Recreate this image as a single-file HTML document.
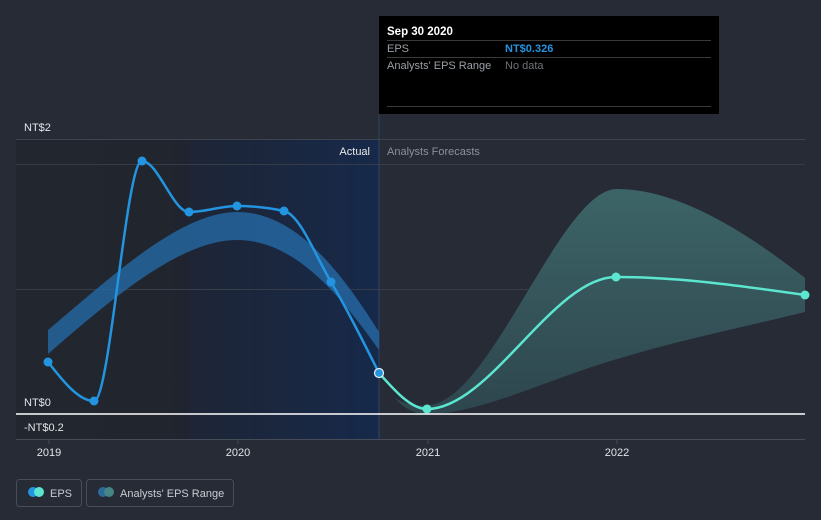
<!DOCTYPE html>
<html><head><meta charset="utf-8"><style>
html,body{margin:0;padding:0;background:#262b36;}
svg{display:block;font-family:"Liberation Sans",Arial,sans-serif;}
</style></head><body>
<svg width="821" height="520" viewBox="0 0 821 520" xmlns="http://www.w3.org/2000/svg">
<defs>
<linearGradient id="act" x1="0" y1="0" x2="1" y2="0">
<stop offset="0" stop-color="#1e2535"/>
<stop offset="1" stop-color="#16294a"/>
</linearGradient>
<linearGradient id="lft" x1="0" y1="0" x2="1" y2="0">
<stop offset="0" stop-color="#22262f"/>
<stop offset="0.85" stop-color="#21252e"/>
<stop offset="1" stop-color="#1f2430"/>
</linearGradient>
<linearGradient id="fc" x1="0" y1="0" x2="0" y2="1">
<stop offset="0" stop-color="#3c6467"/>
<stop offset="1" stop-color="#2e464e"/>
</linearGradient>
</defs>
<rect width="821" height="520" fill="#262b36"/>
<rect x="16" y="139" width="173" height="300" fill="url(#lft)"/>
<rect x="189" y="139" width="190" height="300" fill="url(#act)"/>
<line x1="379" y1="114" x2="379" y2="439" stroke="#2c4668" stroke-width="1"/>
<line x1="16" y1="139.5" x2="805" y2="139.5" stroke="#3d434f"/>
<line x1="16" y1="164.5" x2="805" y2="164.5" stroke="#363c48"/>
<line x1="16" y1="289.5" x2="805" y2="289.5" stroke="#363c48"/>
<line x1="16" y1="439.5" x2="805" y2="439.5" stroke="#464c58"/>
<path d="M48,330 C110,278 180,212 237,212 C295,212 340,270 379,332 L379,350 C340,295 295,240 237,240 C180,240 110,300 48,354 Z" fill="#2468a2" fill-opacity="0.82"/>
<path d="M395,398 C408,406 418,406 427,405 C490,405 560,189 617,189 C680,189 750,235 805,278 L805,312 C740,328 680,340 617,359 C540,382 480,414 427,414 C412,414 402,406 395,398 Z" fill="url(#fc)"/>
<line x1="16" y1="414" x2="805" y2="414" stroke="#ffffff" stroke-width="1.5"/>
<path d="M48,362 C63.3,381.5 78.7,401 94,401 C110,401 126,161 142,161 C157.7,161 173.3,212 189,212 C205,212 221,206 237,206 C252.7,206 268.3,207.7 284,211 C299.7,214.3 315.3,255.4 331,282 C347,309.2 363,341.1 379,373" fill="none" stroke="#2394df" stroke-width="2.5"/>
<path d="M379,373 C395,391 411,409 427,409 C490,409 553,277 616,277 C679,277 742,286 805,295" fill="none" stroke="#5ce6d0" stroke-width="2.5"/>
<g fill="#2394df">
<circle cx="48" cy="362" r="4.5"/>
<circle cx="94" cy="401" r="4.5"/>
<circle cx="142" cy="161" r="4.5"/>
<circle cx="189" cy="212" r="4.5"/>
<circle cx="237" cy="206" r="4.5"/>
<circle cx="284" cy="211" r="4.5"/>
<circle cx="331" cy="282" r="4.5"/>
</g>
<circle cx="379" cy="373" r="4.5" fill="#2394df" stroke="#e8eef5" stroke-width="1.2"/>
<g fill="#5ce6d0">
<circle cx="427" cy="409" r="4.5"/>
<circle cx="616" cy="277" r="4.5"/>
<circle cx="805" cy="295" r="4.5"/>
</g>
<g font-size="11" fill="#e2e4e8">
<text x="24" y="131">NT$2</text>
<text x="24" y="406">NT$0</text>
<text x="24" y="431">-NT$0.2</text>
</g>
<text x="370" y="155" font-size="11" fill="#e8e8e8" text-anchor="end">Actual</text>
<text x="387" y="155" font-size="11" fill="#8a9099">Analysts Forecasts</text>
<g stroke="#464c58"><line x1="49" y1="439" x2="49" y2="444"/><line x1="238" y1="439" x2="238" y2="444"/><line x1="428" y1="439" x2="428" y2="444"/><line x1="617" y1="439" x2="617" y2="444"/></g>
<g font-size="11" fill="#e2e4e8" text-anchor="middle">
<text x="49" y="456">2019</text>
<text x="238" y="456">2020</text>
<text x="428" y="456">2021</text>
<text x="617" y="456">2022</text>
</g>
<rect x="379" y="16" width="340" height="98" fill="#000"/>
<text x="387" y="35" font-size="11.5" font-weight="bold" fill="#ffffff">Sep 30 2020</text>
<line x1="387" y1="40.5" x2="711" y2="40.5" stroke="#3a3a3a"/>
<text x="387" y="52" font-size="11" fill="#9aa0a6">EPS</text>
<text x="505" y="52" font-size="11" font-weight="bold" fill="#2394df">NT$0.326</text>
<line x1="387" y1="57.5" x2="711" y2="57.5" stroke="#3a3a3a"/>
<text x="387" y="69" font-size="11" fill="#9aa0a6">Analysts' EPS Range</text>
<text x="505" y="69" font-size="11" fill="#6e7378">No data</text>
<line x1="387" y1="106.5" x2="711" y2="106.5" stroke="#3a3a3a"/>
<rect x="16.5" y="479.5" width="65" height="27" rx="3" fill="none" stroke="#474d59"/>
<circle cx="33" cy="492" r="5" fill="#2394df"/>
<circle cx="39" cy="492" r="5" fill="#5ce6d0"/>
<text x="50" y="497" font-size="11" fill="#c8ccd2">EPS</text>
<rect x="86.5" y="479.5" width="147" height="27" rx="3" fill="none" stroke="#474d59"/>
<circle cx="103" cy="492" r="5" fill="#2b6a9a"/>
<circle cx="109" cy="492" r="5" fill="#478485"/>
<text x="120" y="497" font-size="11" fill="#c8ccd2">Analysts' EPS Range</text>
</svg>
</body></html>
